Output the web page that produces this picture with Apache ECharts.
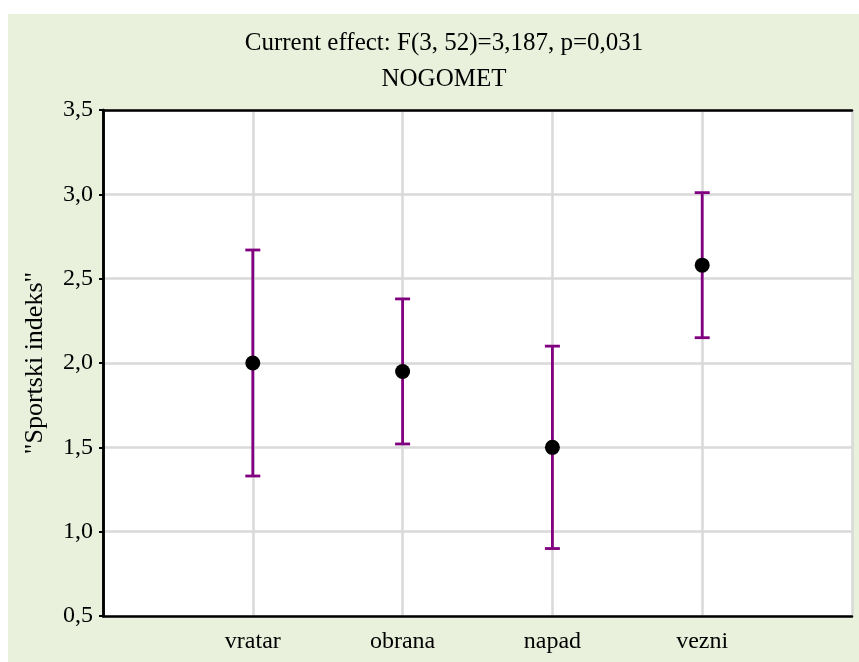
<!DOCTYPE html>
<html>
<head>
<meta charset="utf-8">
<script src="https://cdn.jsdelivr.net/npm/echarts@6/dist/echarts.min.js"></script>
<style>
html,body{margin:0;padding:0;background:#ffffff;}
#chart{width:859px;height:662px;}
</style>
</head>
<body>
<div id="chart"></div>
<script>
var categories = ['vratar', 'obrana', 'napad', 'vezni'];
var means = [2.00, 1.95, 1.50, 2.58];
var upper = [2.67, 2.38, 2.10, 3.01];
var lower = [1.33, 1.52, 0.90, 2.15];
var yTicks = [0.5, 1.0, 1.5, 2.0, 2.5, 3.0, 3.5];

var font = 'Liberation Serif, Times New Roman, serif';
var chart = echarts.init(document.getElementById('chart'));

var pointData = means.map(function (m, i) { return [i + 1, m]; });
var errData = means.map(function (m, i) { return [i + 1, lower[i], upper[i]]; });
var frameLine = { show: true, lineStyle: { color: '#000', width: 2.5 } };

var option = {
  backgroundColor: '#ffffff',
  animation: false,
  graphic: [{
    type: 'rect', z: -10, silent: true,
    shape: { x: 8, y: 14, width: 851, height: 648 },
    style: { fill: '#e9f0dc' }
  }],
  title: [{
    text: 'Current effect: F(3, 52)=3,187, p=0,031',
    left: 439, top: 26, textAlign: 'center',
    textStyle: { fontFamily: font, fontSize: 25, fontWeight: 'normal', color: '#000' }
  }, {
    text: 'NOGOMET',
    left: 439, top: 62, textAlign: 'center',
    textStyle: { fontFamily: font, fontSize: 25, fontWeight: 'normal', color: '#000' }
  }],
  grid: {
    left: 103, right: 7, top: 110, bottom: 46,
    show: true, backgroundColor: '#ffffff', borderWidth: 0, z: 0
  },
  xAxis: [{
    type: 'value', min: 0, max: 5, interval: 1,
    axisLine: frameLine,
    axisTick: { show: false },
    splitLine: { show: true, lineStyle: { color: '#d9d9d9', width: 2.5 } },
    axisLabel: {
      fontFamily: font, fontSize: 24, color: '#000', margin: 14,
      formatter: function (v) { return categories[v - 1] || ''; }
    }
  }, {
    type: 'value', position: 'top', min: 0, max: 5, interval: 1,
    axisLine: frameLine,
    axisTick: { show: false },
    axisLabel: { show: false },
    splitLine: { show: false }
  }],
  yAxis: [{
    type: 'value', min: yTicks[0], max: yTicks[yTicks.length - 1], interval: 0.5,
    name: '"Sportski indeks"', nameLocation: 'middle', nameGap: 55,
    nameTextStyle: { fontFamily: font, fontSize: 26, color: '#000' },
    axisLine: frameLine,
    axisTick: { show: true, length: 4, lineStyle: { color: '#000', width: 2 } },
    splitLine: { show: true, lineStyle: { color: '#d9d9d9', width: 2.5 } },
    axisLabel: {
      fontFamily: font, fontSize: 24, color: '#000', margin: 10,
      formatter: function (v) { return v.toFixed(1).replace('.', ','); }
    }
  }, {
    type: 'value', position: 'right', min: yTicks[0], max: yTicks[yTicks.length - 1], interval: 0.5,
    axisLine: frameLine,
    axisTick: { show: true, inside: true, length: 3, lineStyle: { color: '#000', width: 2 } },
    axisLabel: { show: false },
    splitLine: { show: false }
  }],
  series: [{
    type: 'custom',
    z: 5,
    data: errData,
    renderItem: function (params, api) {
      var x = api.value(0);
      var lo = api.coord([x, api.value(1)]);
      var hi = api.coord([x, api.value(2)]);
      var cap = 7.5;
      var st = { stroke: '#800080', lineWidth: 2.8 };
      return {
        type: 'group',
        children: [
          { type: 'line', shape: { x1: lo[0], y1: lo[1], x2: hi[0], y2: hi[1] }, style: st },
          { type: 'line', shape: { x1: hi[0] - cap, y1: hi[1], x2: hi[0] + cap, y2: hi[1] }, style: st },
          { type: 'line', shape: { x1: lo[0] - cap, y1: lo[1], x2: lo[0] + cap, y2: lo[1] }, style: st }
        ]
      };
    }
  }, {
    type: 'scatter',
    z: 10,
    data: pointData,
    symbol: 'circle',
    symbolSize: 15,
    itemStyle: { color: '#000', opacity: 1 }
  }]
};
chart.setOption(option);
</script>
</body>
</html>
